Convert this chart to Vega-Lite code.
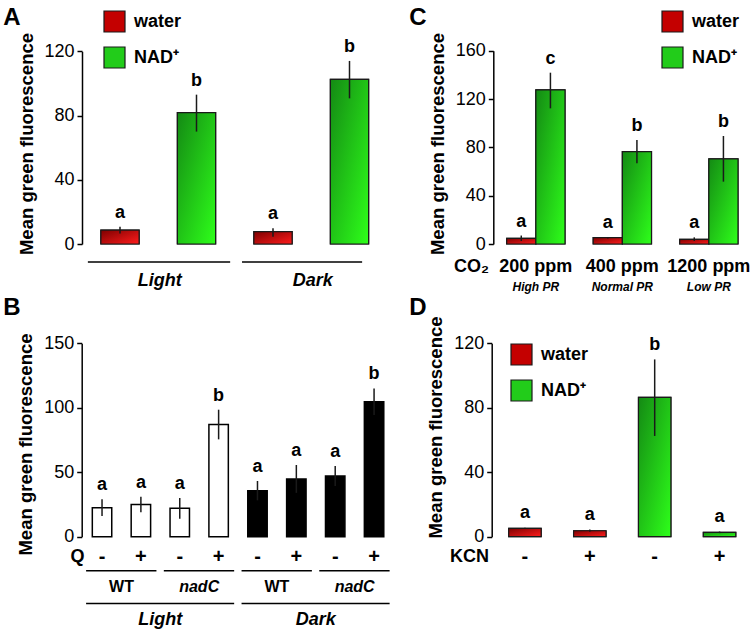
{
"$schema":"https://vega.github.io/schema/vega-lite/v6.json",
"width":751,"height":631,"autosize":{"type":"none"},"padding":0,"background":"white",
"config":{
 "font":"Liberation Sans",
 "view":{"stroke":null},
 "axis":{"grid":false,"domainColor":"#000","domainWidth":1.5,"tickColor":"#000","tickWidth":1.5,"tickSize":5,"labelColor":"#000","labelFontSize":18,"labelFont":"Liberation Sans","labelPadding":3,"titleColor":"#000","titleFontSize":18.5,"titleFontWeight":"bold","titleFont":"Liberation Sans"},
 "legend":{"padding":0,"orient":"none","title":null,"symbolType":"square","symbolSize":441,"symbolStrokeColor":"#1a1a1a","symbolStrokeWidth":1.2,"symbolOpacity":1,"labelFontSize":18,"labelFontWeight":"bold","labelColor":"#000","labelOffset":8,"rowPadding":9},
 "text":{"font":"Liberation Sans","color":"#000"}
},
"datasets":{
 "A":[{"bar":"Lw","trt":"water","mean":8.7,"lo":6.6,"hi":10.8,"sig":"a"},{"bar":"Ln","trt":"NAD⁺","mean":81.8,"lo":70,"hi":93,"sig":"b"},{"bar":"Dw","trt":"water","mean":7.7,"lo":4.5,"hi":9.8,"sig":"a"},{"bar":"Dn","trt":"NAD⁺","mean":102.5,"lo":90.7,"hi":114,"sig":"b"}],
 "Alines":[{"tier":"line","from":"Lw","to":"Ln"},{"tier":"line","from":"Dw","to":"Dn"}],
 "Alabels":[{"tier":"label","at":"Lw","label":"Light"},{"tier":"label","at":"Dw","label":"Dark"}],
 "B":[{"bar":"L WT -","light":"Light","mean":22.5,"lo":16,"hi":29,"sig":"a"},{"bar":"L WT +","light":"Light","mean":25,"lo":19,"hi":31,"sig":"a"},{"bar":"L nadC -","light":"Light","mean":22,"lo":14,"hi":30,"sig":"a"},{"bar":"L nadC +","light":"Light","mean":87,"lo":75.5,"hi":98.5,"sig":"b"},{"bar":"D WT -","light":"Dark","mean":35.7,"lo":28.2,"hi":43.2,"sig":"a"},{"bar":"D WT +","light":"Dark","mean":44.8,"lo":34,"hi":55.6,"sig":"a"},{"bar":"D nadC -","light":"Dark","mean":47.1,"lo":39.4,"hi":54.8,"sig":"a"},{"bar":"D nadC +","light":"Dark","mean":104.7,"lo":94.4,"hi":115,"sig":"b"}],
 "Blines":[{"tier":"line1","from":"L WT -","to":"L WT +"},{"tier":"line1","from":"L nadC -","to":"L nadC +"},{"tier":"line1","from":"D WT -","to":"D WT +"},{"tier":"line1","from":"D nadC -","to":"D nadC +"},{"tier":"line2","from":"L WT -","to":"L nadC +"},{"tier":"line2","from":"D WT -","to":"D nadC +"}],
 "Blabels":[{"tier":"label1","at":"L WT -","label":"WT"},{"tier":"label1","at":"L nadC -","label":"nadC"},{"tier":"label1","at":"D WT -","label":"WT"},{"tier":"label1","at":"D nadC -","label":"nadC"},{"tier":"label2","at":"L WT +","label":"Light"},{"tier":"label2","at":"D WT +","label":"Dark"}],
 "C":[{"co2":"200 ppm","trt":"water","mean":4.7,"lo":2.5,"hi":7,"sig":"a"},{"co2":"200 ppm","trt":"NAD⁺","mean":127.5,"lo":112.3,"hi":141.8,"sig":"c"},{"co2":"400 ppm","trt":"water","mean":5.2,"lo":4.6,"hi":5.8,"sig":"a"},{"co2":"400 ppm","trt":"NAD⁺","mean":76.4,"lo":66.8,"hi":86,"sig":"b"},{"co2":"1200 ppm","trt":"water","mean":3.9,"lo":2.5,"hi":5.5,"sig":"a"},{"co2":"1200 ppm","trt":"NAD⁺","mean":70.4,"lo":51.6,"hi":89.4,"sig":"b"}],
 "Cpr":[{"tier":"pr","co2":"200 ppm","label":"High PR"},{"tier":"pr","co2":"400 ppm","label":"Normal PR"},{"tier":"pr","co2":"1200 ppm","label":"Low PR"}],
 "D":[{"bar":"water KCN -","trt":"water","mean":5.2,"lo":4.8,"hi":5.6,"sig":"a"},{"bar":"water KCN +","trt":"water","mean":3.7,"lo":3,"hi":4.5,"sig":"a"},{"bar":"NAD KCN -","trt":"NAD⁺","mean":86.5,"lo":62.5,"hi":110,"sig":"b"},{"bar":"NAD KCN +","trt":"NAD⁺","mean":2.7,"lo":2.2,"hi":3.2,"sig":"a"}],
 "panels":[{"panel":"A","col":"left","row":"top"},{"panel":"B","col":"left","row":"bottom"},{"panel":"C","col":"right","row":"top"},{"panel":"D","col":"right","row":"bottom"}]
},
"layer":[
 {
  "layer":[
   {"data":{"name":"A"},
    "encoding":{"x":{"field":"bar","type":"nominal","scale":{"domain":["Lw","Ln","Dw","Dn"],"range":[81.75,387.75],"paddingInner":0.5,"paddingOuter":0.25},"axis":null},
       "y":{"field":"mean","type":"quantitative","scale":{"domain":[0,120],"range":[244,51.3],"nice":false,"zero":true},
            "axis":{"orient":"left","offset":-82,"values":[0,40,80,120],"title":"Mean green fluorescence","titleX":-50,"titleY":143.5,"titleBaseline":"alphabetic","titleAngle":-90}}},
    "layer":[
     {"mark":{"type":"bar","stroke":"#1a1a1a","strokeWidth":1.2},
      "encoding":{"color":{"field":"trt","type":"nominal","scale":{"domain":["water","NAD⁺"],"range":["#c40000","#22cc1a"]},"legend":{"legendX":103,"legendY":10}}}},
     {"transform":[{"filter":"datum.trt == 'water'"}],"mark":{"type":"bar","stroke":"#1a1a1a","strokeWidth":1.2,"fill":{"gradient":"linear","x1":0,"y1":0,"x2":1,"y2":1,"stops":[{"offset":0,"color":"#7d0000"},{"offset":1,"color":"#ff1c1c"}]}}},
     {"transform":[{"filter":"datum.trt != 'water'"}],"mark":{"type":"bar","stroke":"#1a1a1a","strokeWidth":1.2,"fill":{"gradient":"linear","x1":0,"y1":0,"x2":1,"y2":1,"stops":[{"offset":0,"color":"#148a14"},{"offset":1,"color":"#2eff1a"}]}}},
     {"mark":{"type":"rule","stroke":"#1a1a1a","strokeWidth":1.5},"encoding":{"y":{"field":"lo","type":"quantitative"},"y2":{"field":"hi"}}},
     {"mark":{"type":"text","fontSize":18,"fontWeight":"bold","dy":-9,"baseline":"alphabetic"},"encoding":{"y":{"field":"hi","type":"quantitative"},"text":{"field":"sig"}}}
    ]},
   {"layer":[
     {"data":{"name":"Alines"},"transform":[{"filter":"datum.from == 'Lw'"}],"mark":{"type":"rule","strokeWidth":1.5,"color":"#000"},
      "encoding":{"x":{"field":"from","type":"nominal","bandPosition":-0.34,"axis":null},"x2":{"field":"to","bandPosition":1.38},
                  "y":{"field":"tier","type":"nominal","scale":{"type":"point","domain":["line","label"],"range":[262,281],"padding":0},"axis":null}}},
     {"data":{"name":"Alines"},"transform":[{"filter":"datum.from == 'Dw'"}],"mark":{"type":"rule","strokeWidth":1.5,"color":"#000"},
      "encoding":{"x":{"field":"from","type":"nominal","bandPosition":-0.31,"axis":null},"x2":{"field":"to","bandPosition":0.83},
                  "y":{"field":"tier","type":"nominal","axis":null}}},
     {"data":{"name":"Alabels"},"mark":{"type":"text","fontSize":18,"fontWeight":"bold","fontStyle":"italic","baseline":"middle"},
      "encoding":{"x":{"field":"at","type":"nominal","bandPosition":1.54,"axis":null},"y":{"field":"tier","type":"nominal","axis":null},"text":{"field":"label"}}}
   ]}
  ],
  "resolve":{"scale":{"y":"independent"},"axis":{"y":"independent"}}
 },
 {
  "layer":[
   {"data":{"name":"B"},
    "encoding":{"x":{"field":"bar","type":"nominal","scale":{"domain":["L WT -","L WT +","L nadC -","L nadC +","D WT -","D WT +","D nadC -","D nadC +"],"range":[82.6,393.5],"paddingInner":0.5,"paddingOuter":0.25},
       "axis":{"orient":"bottom","offset":-94.3,"domain":false,"ticks":false,"tickSize":0,"labelExpr":"slice(datum.value,-1)","labelFontWeight":"bold","labelFontSize":20,"labelBaseline":"middle","labelPadding":19.3,"labelAngle":0,"labelOverlap":false,"title":"Q","titleX":77,"titleY":19.3,"titleBaseline":"middle","titleFontSize":18,"titleAngle":0}},
       "y":{"field":"mean","type":"quantitative","scale":{"domain":[0,150],"range":[536.7,343.3],"nice":false,"zero":true},
            "axis":{"orient":"left","offset":-81.7,"values":[0,50,100,150],"title":"Mean green fluorescence","titleX":-50,"titleY":444,"titleBaseline":"alphabetic","titleAngle":-90}}},
    "layer":[
     {"mark":{"type":"bar","stroke":"#000","strokeWidth":1.5},
      "encoding":{"fill":{"condition":{"test":"datum.light == 'Light'","value":"white"},"value":"black"}}},
     {"mark":{"type":"rule","stroke":"#1a1a1a","strokeWidth":1.5},"encoding":{"y":{"field":"lo","type":"quantitative"},"y2":{"field":"hi"}}},
     {"mark":{"type":"text","fontSize":18,"fontWeight":"bold","dy":-9,"baseline":"alphabetic"},"encoding":{"y":{"field":"hi","type":"quantitative"},"text":{"field":"sig"}}}
    ]},
   {"layer":[
     {"data":{"name":"Blines"},"mark":{"type":"rule","strokeWidth":1.5,"color":"#000"},
      "encoding":{"x":{"field":"from","type":"nominal","bandPosition":-0.32},"x2":{"field":"to","bandPosition":1.3},
                  "y":{"field":"tier","type":"nominal","scale":{"type":"point","domain":["line1","label1","line2","label2"],"range":[570.7,620],"padding":0},"axis":null}}},
     {"data":{"name":"Blabels"},"transform":[{"filter":"datum.label == 'WT'"}],"mark":{"type":"text","fontSize":16,"fontWeight":"bold","baseline":"middle"},
      "encoding":{"x":{"field":"at","type":"nominal","bandPosition":1.5},"y":{"field":"tier","type":"nominal","axis":null},"text":{"field":"label"}}},
     {"data":{"name":"Blabels"},"transform":[{"filter":"datum.label == 'nadC'"}],"mark":{"type":"text","fontSize":16,"fontWeight":"bold","fontStyle":"italic","baseline":"middle"},
      "encoding":{"x":{"field":"at","type":"nominal","bandPosition":1.5},"y":{"field":"tier","type":"nominal","axis":null},"text":{"field":"label"}}},
     {"data":{"name":"Blabels"},"transform":[{"filter":"datum.tier == 'label2'"}],"mark":{"type":"text","fontSize":18,"fontWeight":"bold","fontStyle":"italic","baseline":"middle"},
      "encoding":{"x":{"field":"at","type":"nominal","bandPosition":1.5},"y":{"field":"tier","type":"nominal","axis":null},"text":{"field":"label"}}}
   ]}
  ],
  "resolve":{"scale":{"y":"independent"},"axis":{"y":"independent"}}
 },
 {
  "layer":[
   {"data":{"name":"C"},
    "encoding":{"x":{"field":"co2","type":"nominal","scale":{"domain":["200 ppm","400 ppm","1200 ppm"],"range":[506.7,738],"paddingInner":0.326,"paddingOuter":0},
       "axis":{"orient":"bottom","offset":-387,"domain":false,"ticks":false,"tickSize":0,"labelFontWeight":"bold","labelFontSize":18,"labelBaseline":"alphabetic","labelPadding":27,"labelAngle":0,"labelOverlap":false,"title":"CO₂","titleX":471,"titleY":27,"titleBaseline":"alphabetic","titleFontSize":18,"titleAngle":0}},
     "xOffset":{"field":"trt","type":"nominal","scale":{"domain":["water","NAD⁺"],"paddingInner":0,"paddingOuter":0}},
     "y":{"field":"mean","type":"quantitative","scale":{"domain":[0,160],"range":[244,50.7],"nice":false,"zero":true},
            "axis":{"orient":"left","offset":-493.3,"values":[0,40,80,120,160],"title":"Mean green fluorescence","titleX":-50,"titleY":143.5,"titleBaseline":"alphabetic","titleAngle":-90}}},
    "layer":[
     {"mark":{"type":"bar","stroke":"#1a1a1a","strokeWidth":1.2},
      "encoding":{"color":{"field":"trt","type":"nominal","scale":{"domain":["water","NAD⁺"],"range":["#c40000","#22cc1a"]},"legend":{"legendX":661,"legendY":10}}}},
     {"transform":[{"filter":"datum.trt == 'water'"}],"mark":{"type":"bar","stroke":"#1a1a1a","strokeWidth":1.2,"fill":{"gradient":"linear","x1":0,"y1":0,"x2":1,"y2":1,"stops":[{"offset":0,"color":"#7d0000"},{"offset":1,"color":"#ff1c1c"}]}}},
     {"transform":[{"filter":"datum.trt != 'water'"}],"mark":{"type":"bar","stroke":"#1a1a1a","strokeWidth":1.2,"fill":{"gradient":"linear","x1":0,"y1":0,"x2":1,"y2":1,"stops":[{"offset":0,"color":"#148a14"},{"offset":1,"color":"#2eff1a"}]}}},
     {"mark":{"type":"rule","stroke":"#1a1a1a","strokeWidth":1.5},"encoding":{"y":{"field":"lo","type":"quantitative"},"y2":{"field":"hi"}}},
     {"mark":{"type":"text","fontSize":18,"fontWeight":"bold","dy":-9,"baseline":"alphabetic"},"encoding":{"y":{"field":"hi","type":"quantitative"},"text":{"field":"sig"}}}
    ]},
   {"data":{"name":"Cpr"},"mark":{"type":"text","fontSize":12,"fontWeight":"bold","fontStyle":"italic","baseline":"middle"},
    "encoding":{"x":{"field":"co2","type":"nominal"},"y":{"field":"tier","type":"nominal","scale":{"type":"point","domain":["pr"],"range":[287,287],"padding":0},"axis":null},"text":{"field":"label"}}}
  ],
  "resolve":{"scale":{"y":"independent"},"axis":{"y":"independent"}}
 },
 {
  "data":{"name":"D"},
  "encoding":{"x":{"field":"bar","type":"nominal","scale":{"domain":["water KCN -","water KCN +","NAD KCN -","NAD KCN +"],"range":[492.5,752],"paddingInner":0.5,"paddingOuter":0.25},
     "axis":{"orient":"bottom","offset":-94.3,"domain":false,"ticks":false,"tickSize":0,"labelExpr":"slice(datum.value,-1)","labelFontWeight":"bold","labelFontSize":20,"labelBaseline":"middle","labelPadding":19.3,"labelAngle":0,"labelOverlap":false,"title":"KCN","titleX":469,"titleY":19.3,"titleBaseline":"middle","titleFontSize":18,"titleAngle":0}},
     "y":{"field":"mean","type":"quantitative","scale":{"domain":[0,120],"range":[536.7,343.3],"nice":false,"zero":true},
          "axis":{"orient":"left","offset":-491.7,"values":[0,40,80,120],"title":"Mean green fluorescence","titleX":-50,"titleY":427,"titleBaseline":"alphabetic","titleAngle":-90}}},
  "layer":[
   {"mark":{"type":"bar","stroke":"#1a1a1a","strokeWidth":1.2},
    "encoding":{"color":{"field":"trt","type":"nominal","scale":{"domain":["water","NAD⁺"],"range":["#c40000","#22cc1a"]},"legend":{"legendX":510,"legendY":343}}}},
   {"transform":[{"filter":"datum.trt == 'water'"}],"mark":{"type":"bar","stroke":"#1a1a1a","strokeWidth":1.2,"fill":{"gradient":"linear","x1":0,"y1":0,"x2":1,"y2":1,"stops":[{"offset":0,"color":"#7d0000"},{"offset":1,"color":"#ff1c1c"}]}}},
   {"transform":[{"filter":"datum.trt != 'water'"}],"mark":{"type":"bar","stroke":"#1a1a1a","strokeWidth":1.2,"fill":{"gradient":"linear","x1":0,"y1":0,"x2":1,"y2":1,"stops":[{"offset":0,"color":"#148a14"},{"offset":1,"color":"#2eff1a"}]}}},
   {"mark":{"type":"rule","stroke":"#1a1a1a","strokeWidth":1.5},"encoding":{"y":{"field":"lo","type":"quantitative"},"y2":{"field":"hi"}}},
   {"mark":{"type":"text","fontSize":18,"fontWeight":"bold","dy":-9.5,"baseline":"alphabetic"},"encoding":{"y":{"field":"hi","type":"quantitative"},"text":{"field":"sig"}}}
  ]
 },
 {"data":{"name":"panels"},"mark":{"type":"text","fontSize":24,"fontWeight":"bold","baseline":"alphabetic","align":"center"},
  "encoding":{"x":{"field":"col","type":"nominal","scale":{"type":"point","domain":["left","right"],"range":[12,418],"padding":0},"axis":null},
              "y":{"field":"row","type":"nominal","scale":{"type":"point","domain":["top","bottom"],"range":[25,315],"padding":0},"axis":null},
              "text":{"field":"panel"}}}
],
"resolve":{"scale":{"x":"independent","y":"independent","color":"independent"},"axis":{"x":"independent","y":"independent"},"legend":{"color":"independent"}}
}
